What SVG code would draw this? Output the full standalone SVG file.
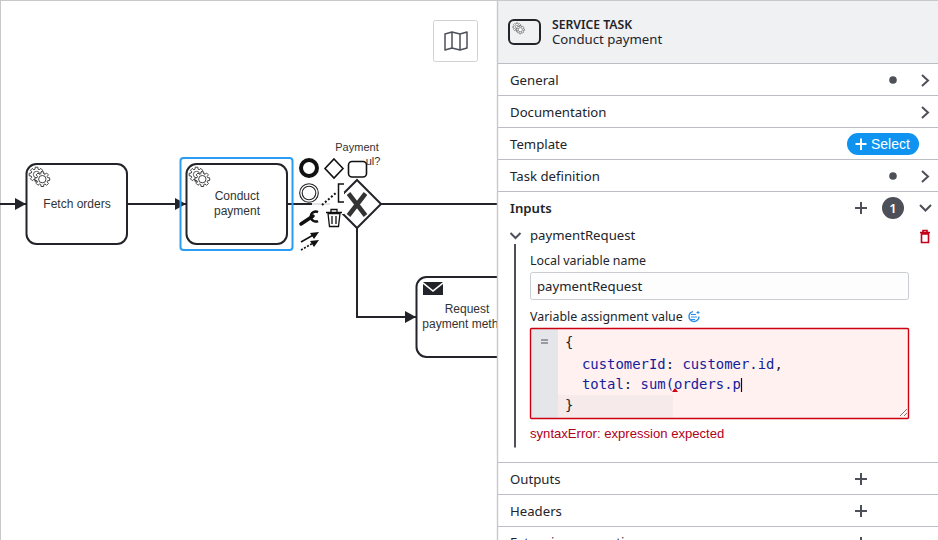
<svg xmlns="http://www.w3.org/2000/svg" width="938" height="540" viewBox="0 0 938 540">
<style>
.task{fill:#fff;stroke:#22242a;stroke-width:2}
.flow{fill:none;stroke:#22242a;stroke-width:2}
.lbl{font:12px "Liberation Sans",Arial,sans-serif;fill:#333;text-anchor:middle}
.ui{font:13.2px "Noto Sans","Open Sans",sans-serif;fill:#22242a}
.sm{font:12.4px "Noto Sans","Open Sans",sans-serif;fill:#22242a}
.line{stroke:#bcbec5;stroke-width:1;fill:none}
.ic{fill:none;stroke:#4d5058;stroke-width:2}
.code{font:13.9px "DejaVu Sans Mono","Liberation Mono",monospace;fill:#14209a;white-space:pre}
.dk{fill:#22242a}
</style>
<defs>
<marker id="arrow" markerUnits="userSpaceOnUse" markerWidth="12" markerHeight="12" refX="11" refY="6" orient="auto"><path d="M0 0L11 6L0 12Z" fill="#22242a"/></marker>
<path id="cog" d="M4.61 -1.32L6.4 -1.13L6.4 1.13L4.61 1.32L4.2 2.33L5.32 3.73L3.73 5.32L2.33 4.2L1.32 4.61L1.13 6.4L-1.13 6.4L-1.32 4.61L-2.33 4.2L-3.73 5.32L-5.32 3.73L-4.2 2.33L-4.61 1.32L-6.4 1.13L-6.4 -1.13L-4.61 -1.32L-4.2 -2.33L-5.32 -3.73L-3.73 -5.32L-2.33 -4.2L-1.32 -4.61L-1.13 -6.4L1.13 -6.4L1.32 -4.61L2.33 -4.2L3.73 -5.32L5.32 -3.73L4.2 -2.33Z" fill="#fff" stroke="#333" stroke-width=".8" stroke-linejoin="round"/>
<g id="gear"><use href="#cog" x="-3" y="-3"/><circle cx="-3" cy="-3" r="2.800" fill="#fff" stroke="#333" stroke-width=".7"/><use href="#cog" x="2" y="1"/><circle cx="2" cy="1" r="3.200" fill="#fff" stroke="#333" stroke-width=".8"/></g>
</defs>
<rect width="938" height="540" fill="#fff"/>
<path d="M0 .5H497M.5 0V540" stroke="#c8c8c8" fill="none"/>
<g id="map-button"><rect x="433.5" y="20.5" width="44" height="41" rx="2" fill="#fff" stroke="#d0d2d6"/><path d="M445 34L452 32L460 34L467 32V48L460 50L452 48L445 50ZM452 32V48M460 34V50" fill="none" stroke="#4d5058" stroke-width="1.5" stroke-linejoin="round"/></g>
<g id="connectors">
<path class="flow" d="M0 204H26" marker-end="url(#arrow)"/>
<path class="flow" d="M127 204H186" marker-end="url(#arrow)"/>
<path class="flow" d="M287 204H312"/>
<path d="M312 204H334" stroke="#c9c9c9" stroke-width="1" fill="none"/>
<path class="flow" d="M381 204H497"/>
<path class="flow" d="M357 228V317H416" marker-end="url(#arrow)"/>
</g>
<g id="fetch-orders"><rect class="task" x="26.5" y="164" width="100.500" height="80" rx="10"/><use href="#gear" transform="translate(40 178) scale(1.15)"/><text class="lbl" x="77" y="208">Fetch orders</text></g>
<g id="conduct-payment"><rect x="180.500" y="158" width="112" height="92" rx="3" fill="none" stroke="#2a9df4" stroke-width="2"/><rect class="task" x="186.500" y="164" width="100.500" height="80" rx="10"/><use href="#gear" transform="translate(200 178) scale(1.15)"/><text class="lbl" x="237" y="200">Conduct</text><text class="lbl" x="237" y="215">payment</text></g>
<g id="gateway"><path d="M357 180L381 204L357 228L333 204Z" fill="#fff" stroke="#22242a" stroke-width="2"/><path d="M348.500 193.500L365.500 215.500M365.500 193.500L348.500 215.500" stroke="#333" stroke-width="4.500" fill="none"/><text class="lbl" style="font-size:11px" x="357" y="151">Payment</text><text class="lbl" style="font-size:11px" x="373" y="165">ul?</text></g>
<g id="context-pad">
<rect x="330" y="192" width="14" height="22" fill="#fff"/>
<circle cx="309" cy="168" r="8" fill="#fff" stroke="#111" stroke-width="4"/>
<path d="M334 159L343 168.500L334 178L325 168.500Z" fill="#fff" stroke="#111" stroke-width="1.600"/>
<rect x="348.500" y="161.500" width="18" height="15.500" rx="3.500" fill="#fff" stroke="#111" stroke-width="1.600"/>
<circle cx="309" cy="193" r="9.300" fill="#fff" stroke="#222" stroke-width="1.100"/><circle cx="309" cy="193" r="6.800" fill="#fff" stroke="#222" stroke-width="1.100"/>
<path d="M322 205L337 192" stroke="#111" stroke-width="2" stroke-dasharray="2 2" fill="none"/>
<path d="M344 184H338.500V202H344" fill="none" stroke="#111" stroke-width="1.500"/>
<path d="M301 224L313 216" stroke="#111" stroke-width="3.500" stroke-linecap="round"/>
<path d="M318 212A5 5 0 1 0 318 221" fill="none" stroke="#111" stroke-width="2.500"/>
<path d="M326 212.500H342M331 212.500V209.500H337V212.500M328 213.500L329.500 226.500H338.500L340 213.500ZM332 216V224M336 216V224" fill="none" stroke="#111" stroke-width="1.300"/>
<path d="M301 242L315 234" stroke="#111" stroke-width="1.600"/><path d="M319 232L310 233L314 239Z" fill="#111"/>
<path d="M301 250L315 242" stroke="#111" stroke-width="1.600" stroke-dasharray="2 1.500"/><path d="M319 240L310 241L314 247Z" fill="#111"/>
</g>
<g id="request-payment"><rect class="task" x="416.500" y="277" width="120" height="80" rx="10"/><path d="M423 282H443L433 290Z" fill="#22242a"/><path d="M423 284V295H443V284L433 292Z" fill="#22242a"/><text class="lbl" x="467" y="313">Request</text><text class="lbl" x="467" y="328">payment method</text></g>
<g id="properties-panel">
<rect x="497" y="0" width="441" height="540" fill="#fff"/>
<rect x="498" y="0" width="440" height="63" fill="#f0f1f3"/>
<path d="M497.500 0V540" stroke="#c8c9cd" stroke-width="1.400"/>
<path d="M498 .5H938" stroke="#c8c9cd"/>
<path class="line" d="M498 63.500H938M498 95.500H938M498 127.500H938M498 159.500H938M498 191.500H938M498 462.500H938M498 494.500H938M498 526.500H938"/>
<rect x="509" y="20" width="31" height="24" rx="5" fill="none" stroke="#22242a" stroke-width="2"/>
<use href="#gear" transform="translate(519 29) scale(.65)"/>
<text x="552" y="29" style="font:600 12.2px 'Noto Sans','Open Sans',sans-serif;fill:#22242a">SERVICE TASK</text>
<text class="ui" x="552" y="44">Conduct payment</text>
<text class="ui" x="510" y="85">General</text><text class="ui" x="510" y="117">Documentation</text><text class="ui" x="510" y="149">Template</text><text class="ui" x="510" y="181">Task definition</text><text class="ui" x="510" y="213" style="font-weight:600">Inputs</text>
<text class="ui" x="510" y="484">Outputs</text><text class="ui" x="510" y="516">Headers</text><text class="ui" x="510" y="547">Extension properties</text>
<circle cx="893" cy="80" r="3.800" fill="#4d5058"/><circle cx="893" cy="176" r="3.800" fill="#4d5058"/>
<path class="ic" d="M922 75L928 80.500L922 86M922 107L928 112.500L922 118M922 171L928 176.500L922 182M920 205L925.500 210.500L931 205"/>
<rect x="847" y="133" width="72" height="22" rx="11" fill="#0e94f0"/>
<path d="M861 138.500V150M855.500 144H866.500" stroke="#fff" stroke-width="2"/>
<text x="871" y="149" style="font:14px 'Liberation Sans',Arial,sans-serif;fill:#fff">Select</text>
<path class="ic" d="M861 202V214M855 208H867M861 473V485M855 479H867M861 505V517M855 511H867M861 537V540"/>
<circle cx="893" cy="208" r="11" fill="#4d5058"/><text x="893" y="213" text-anchor="middle" style="font:600 13px 'Noto Sans',sans-serif;fill:#fff">1</text>
<path class="ic" d="M510.500 233L515.500 238L520.500 233"/>
<path d="M515 244V447.500" stroke="#4d5058" stroke-width="2"/>
<text class="ui" x="530" y="240">paymentRequest</text>
<path d="M920 232.500H930M923 232.500V230.500H927V232.500M921.500 234V242.500H928.500V234Z" fill="none" stroke="#c4001a" stroke-width="1.600"/>
<text class="sm" x="530" y="265">Local variable name</text>
<rect x="530.500" y="272.500" width="378" height="27" rx="2" fill="#fdfdfd" stroke="#c9ccd0"/>
<text class="ui" x="537" y="291">paymentRequest</text>
<text class="sm" x="530" y="321">Variable assignment value</text>
<circle cx="694" cy="316.500" r="5" fill="none" stroke="#2a8fe8" stroke-width="1.400" stroke-dasharray="22 9"/><path d="M691 314.500H696M691 317H697M691 319.500H695M698 311V314M696.500 312.500H699.500" stroke="#2a8fe8" stroke-width="1.100"/>
<rect x="530.500" y="328.500" width="378" height="90" rx="1" fill="#fff1f0"/>
<rect x="531" y="329" width="27" height="89" fill="#e4e6ea"/>
<rect x="558" y="395" width="115" height="22.500" fill="#f6eaea"/>
<rect x="530.500" y="328.500" width="378" height="90" rx="1" fill="none" stroke="#cc0010" stroke-width="1.400"/>
<path d="M541 340H548M541 343H548" stroke="#4d5058" stroke-width="1.200"/>
<text class="code" x="565" y="347"><tspan class="dk">{</tspan></text>
<text class="code" x="582" y="369">customerId<tspan class="dk">:</tspan> customer.id<tspan class="dk">,</tspan></text>
<text class="code" x="582" y="389">total<tspan class="dk">:</tspan> sum(orders.p</text>
<text class="code" x="565" y="410"><tspan class="dk">}</tspan></text>
<path d="M741.500 378V392" stroke="#111" stroke-width="1.200"/>
<path d="M675 388L678 392H672Z" fill="#cc0010"/>
<path d="M900 416L907 409M904 416L907 413" stroke="#777" stroke-width="1"/>
<text x="530" y="438" style="fill:#b0001a;font:13.1px 'Liberation Sans',Arial,sans-serif">syntaxError: expression expected</text>
</g>
</svg>
